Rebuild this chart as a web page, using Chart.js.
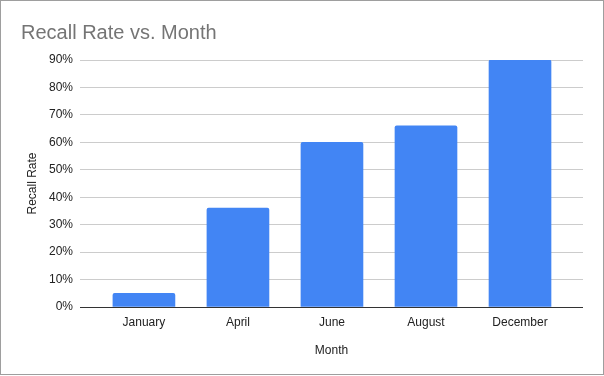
<!DOCTYPE html>
<html>
<head>
<meta charset="utf-8">
<script src="https://cdn.jsdelivr.net/npm/chart.js@4"></script>
<style>
  html, body { margin: 0; padding: 0; background: #fff; }
  #wrap { position: absolute; left: 0; top: 0; width: 602px; height: 373px; border: 1px solid #9e9e9e; }
</style>
</head>
<body>
<div id="wrap"><canvas id="chartBar"></canvas></div>
<script>
'use strict'

// Data
var months = ['January', 'April', 'June', 'August', 'December'];
var recallRate = [5, 36, 60, 66, 90];
var yTicks = [0, 10, 20, 30, 40, 50, 60, 70, 80, 90];

var font = "Arial, 'Liberation Sans', sans-serif";

var points = months.map(function(m, i) { return { x: i, y: recallRate[i] }; });

var ctx = document.getElementById('chartBar');
var myBarChart = new Chart(ctx, {
    type: 'bar',
    data: {
        datasets: [{
            label: 'Recall Rate',
            data: points,
            backgroundColor: '#4285f4',
            barThickness: 62,
            borderRadius: { topLeft: 2, topRight: 2 },
            borderSkipped: 'start'
        }]
    },
    options: {
        responsive: true,
        maintainAspectRatio: false,
        animation: false,
        layout: { padding: { left: 20, right: 20, top: 0, bottom: 0 } },
        plugins: {
            legend: { display: false },
            tooltip: { enabled: false },
            title: {
                display: true,
                text: 'Recall Rate vs. Month',
                align: 'start',
                color: '#757575',
                font: { family: font, size: 20, weight: 'normal' },
                padding: { top: 20, bottom: 15 }
            }
        },
        scales: {
            x: {
                type: 'linear',
                offset: false,
                min: -0.68,
                max: 4.67,
                grid: { display: false },
                border: { display: false },
                afterBuildTicks: function(scale) {
                    scale.ticks = months.map(function(m, i) { return { value: i }; });
                },
                afterFit: function(scale) { scale.height = 67; },
                ticks: {
                    color: '#222',
                    font: { family: font, size: 12 },
                    padding: 0,
                    autoSkip: false,
                    maxRotation: 0,
                    callback: function(v) { return months[v]; }
                },
                title: {
                    display: true,
                    text: 'Month',
                    color: '#222',
                    font: { family: font, size: 12 },
                    padding: { top: 4, bottom: 16 }
                }
            },
            y: {
                min: 0,
                max: 90,
                afterBuildTicks: function(scale) {
                    var t = [];
                    yTicks.forEach(function(v, i) {
                        t.push({ value: v });
                        if (i < yTicks.length - 1) t.push({ value: v + 5 });
                    });
                    scale.ticks = t;
                },
                afterFit: function(scale) { scale.width = 59; },
                border: { display: false },
                grid: {
                    drawTicks: false,
                    color: function(c) {
                        if (c.tick.value === 0) return '#333';
                        return c.tick.value % 10 === 0 ? '#cccccc' : '#ebebeb';
                    }
                },
                ticks: {
                    color: '#222',
                    font: { family: font, size: 12 },
                    padding: 7,
                    callback: function(v) { return v % 10 === 0 ? v + '%' : ''; }
                },
                title: {
                    display: true,
                    text: 'Recall Rate',
                    color: '#222',
                    font: { family: font, size: 12 },
                    padding: { bottom: 2 }
                }
            }
        }
    }
});
</script>
</body>
</html>
